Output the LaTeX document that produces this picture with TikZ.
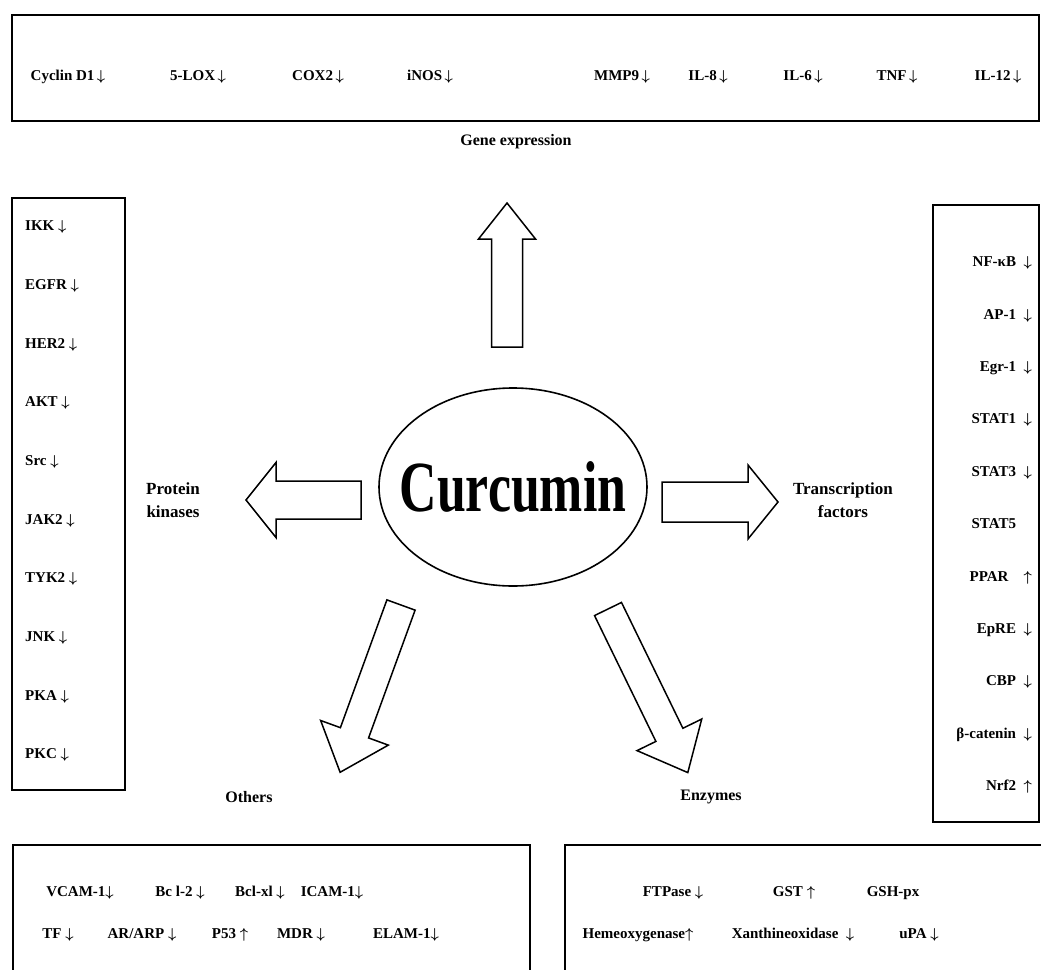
\documentclass[tikz,border=0pt]{standalone}
\usepackage{fontspec}
\setmainfont{Liberation Serif}
\usetikzlibrary{shapes.geometric}
% block arrow: (tail centre) angle length shaft-halfwidth head-halfwidth head-length
\newcommand\fatarrow[6]{%
  \begin{scope}[shift={#1},rotate=#2]
    \draw[blockline] (0,-#4) -- ({#3-#6},-#4) -- ({#3-#6},-#5) -- (#3,0)
      -- ({#3-#6},#5) -- ({#3-#6},#4) -- (0,#4) -- cycle;
  \end{scope}}
\newcommand\dn{$\downarrow$}
\newcommand\up{$\uparrow$}
\tikzset{
  blockline/.style={line width=1.5pt, line join=miter},
  listbox/.style={line width=1.6pt},
  item/.style={font=\fontsize{15}{15}\selectfont\bfseries\boldmath, inner sep=0pt},
  cat/.style={font=\fontsize{16}{19}\selectfont\bfseries, inner sep=0pt, align=center},
}
\begin{document}
\begin{tikzpicture}[x=1pt,y=-1pt]
  \useasboundingbox (0,0) rectangle (1041,969);
  \clip (0,0) rectangle (1041,969);

  % boxes
  \draw[listbox] (12,15) rectangle (1039,121);
  \draw[listbox] (12,198) rectangle (125,790);
  \draw[listbox] (933,205) rectangle (1039,822);
  \draw[listbox] (13,845) rectangle (530,980);
  \draw[listbox] (565,845) rectangle (1050,980);

  % gene expression
  \foreach \x/\lbl [count=\i] in {68/Cyclin D1, 198/5-LOX, 318/COX2, 430/iNOS,
      622/MMP9, 708/IL-8, 803/IL-6, 897/TNF, 998/IL-12}
    \node[item] (ge\i) at (\x,77) {\lbl\,\dn};

  % protein kinases
  \foreach \lbl [count=\i] in {IKK, EGFR, HER2, AKT, Src, JAK2, TYK2, JNK, PKA, PKC}
    \node[item, anchor=west] (pk\i) at (25,{227+(\i-1)*58.7}) {\lbl~\dn};

  % transcription factors
  \foreach \lbl [count=\i] in {NF-κB~~\dn, AP-1~~\dn, Egr-1~~\dn, STAT1~~\dn, STAT3~~\dn,
      STAT5\phantom{~~\dn}, PPAR\quad\up, EpRE~~\dn, CBP~~\dn, β-catenin~~\dn, Nrf2~~\up}
    \node[item, anchor=east] (tf\i) at (1032,{263+(\i-1)*52.4}) {\lbl};

  % others
  \node[item] (ot1) at (80,893) {VCAM-1\dn};
  \node[item] (ot2) at (180,893) {Bc l-2 \dn};
  \node[item] (ot3) at (260,893) {Bcl-xl \dn};
  \node[item] (ot4) at (332,893) {ICAM-1\dn};
  \node[item] (ot5) at (58,935) {TF \dn};
  \node[item] (ot6) at (142,935) {AR/ARP \dn};
  \node[item] (ot7) at (230,935) {P53 \up};
  \node[item] (ot8) at (301,935) {MDR \dn};
  \node[item] (ot9) at (406,935) {ELAM-1\dn};

  % enzymes
  \node[item] (en1) at (673,893) {FTPase \dn};
  \node[item] (en2) at (794,893) {GST \up};
  \node[item] (en3) at (893,893) {GSH-px};
  \node[item] (en4) at (638,935) {Hemeoxygenase\up};
  \node[item] (en5) at (793,935) {Xanthineoxidase ~\dn};
  \node[item] (en6) at (919,935) {uPA \dn};

  % category labels
  \node[cat] (gene) at (516,142) {Gene expression};
  \node[cat, font=\fontsize{17}{23}\selectfont\bfseries] (kin) at (173,500) {Protein\\kinases};
  \node[cat, font=\fontsize{17}{23}\selectfont\bfseries] (trans) at (843,500) {Transcription\\factors};
  \node[cat] (oth) at (249,797) {Others};
  \node[cat] (enz) at (711,797) {Enzymes};

  % centre
  \node[ellipse, draw, line width=1.6pt, minimum width=268pt, minimum height=198pt,
    label={[font=\fontsize{72}{72}\selectfont\bfseries]center:\scalebox{0.72}[1]{Curcumin}}]
    (curc) at (513,487) {};

  \fatarrow{(507,347)}{90}{144}{15.5}{28.5}{36}
  \fatarrow{(361,500)}{180}{115}{19}{37.5}{30}
  \fatarrow{(662,502)}{0}{116}{20}{37}{30}
  \fatarrow{(401,605)}{-110}{178}{15}{36}{42}
  \fatarrow{(608,609)}{-64}{182}{15}{36}{42}
\end{tikzpicture}
\end{document}
